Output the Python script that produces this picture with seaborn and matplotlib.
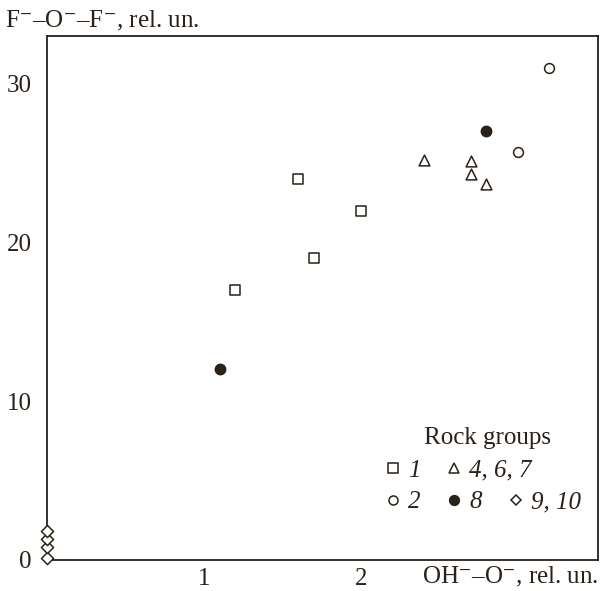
import matplotlib
matplotlib.use("Agg")
import matplotlib.pyplot as plt
import pandas as pd
import seaborn as sns
from matplotlib.lines import Line2D

# --- Data ---
grp1_x = [1.2, 1.6, 1.7, 2.0]
grp1_y = [17.0, 24.0, 19.0, 22.0]
grp2_x = [3.2, 3.0]
grp2_y = [31.0, 25.7]
grp467_x = [2.4, 2.7, 2.7, 2.8]
grp467_y = [25.2, 25.1, 24.3, 23.7]
grp8_x = [1.1, 2.8]
grp8_y = [12.0, 27.0]
grp910_x = [0.0, 0.0, 0.0, 0.0]
grp910_y = [0.1, 0.8, 1.3, 1.8]

group_labels = ["1", "2", "4, 6, 7", "8", "9, 10"]
x_ticks = [1, 2, 3]
x_ticklabels = ["1", "2", ""]
y_ticks = [0, 10, 20, 30]

ink = "#2a2118"
fs = 18

sns.set_theme(style="white")
plt.rcParams["font.family"] = ["Liberation Serif", "DejaVu Serif"]
plt.rcParams["mathtext.fontset"] = "stix"

df = pd.concat([
    pd.DataFrame({"x": grp1_x, "y": grp1_y, "group": group_labels[0]}),
    pd.DataFrame({"x": grp2_x, "y": grp2_y, "group": group_labels[1]}),
    pd.DataFrame({"x": grp467_x, "y": grp467_y, "group": group_labels[2]}),
    pd.DataFrame({"x": grp8_x, "y": grp8_y, "group": group_labels[3]}),
    pd.DataFrame({"x": grp910_x, "y": grp910_y, "group": group_labels[4]}),
], ignore_index=True)

styles = {
    "1": dict(marker="s", fc="white", s=48),
    "2": dict(marker="o", fc="white", s=50),
    "4, 6, 7": dict(marker="^", fc="white", s=60),
    "8": dict(marker="o", fc=ink, s=55),
    "9, 10": dict(marker="D", fc="white", s=38),
}

fig = plt.figure(figsize=(6.02, 5.91), dpi=100)
ax = fig.add_axes([0.078, 0.0525, 0.915, 0.8865])

for g in group_labels:
    st = styles[g]
    sub = df[df["group"] == g]
    sns.scatterplot(data=sub, x="x", y="y", marker=st["marker"], s=st["s"],
                    color=st["fc"], edgecolor=ink, linewidth=1.1, ax=ax,
                    clip_on=False, zorder=3, legend=False)

ax.set_xlim(0, 3.51)
ax.set_ylim(0, 33)
ax.set_xticks(x_ticks)
ax.set_xticklabels(x_ticklabels)
ax.set_yticks(y_ticks)
ax.set_xlabel("")
ax.set_ylabel("")
ax.tick_params(direction="in", length=6, width=1.1, colors=ink, labelsize=fs,
               labelcolor=ink)
ax.tick_params(axis="y", pad=11)
ax.tick_params(axis="x", pad=6)
for sp in ax.spines.values():
    sp.set_color(ink)
    sp.set_linewidth(1.3)

fig.text(0.008, 0.965, r"F$^{-}$–O$^{-}$–F$^{-}$, rel. un.", fontsize=fs,
         color=ink, ha="left", va="center")
fig.text(0.995, 0.012, r"OH$^{-}$–O$^{-}$, rel. un.", fontsize=fs,
         color=ink, ha="right", va="baseline")

# --- legend: two blocks + a title text, as in the reference ---
def handle(g, ms):
    st = styles[g]
    return Line2D([], [], ls="", marker=st["marker"], mfc=st["fc"],
                  mec=ink, mew=1.1, ms=ms)

leg_kw = dict(frameon=False, prop={"style": "italic", "size": fs},
              handletextpad=0.2, labelspacing=0.36, handlelength=0.8,
              borderpad=0, borderaxespad=0, loc="upper left")

leg_a = ax.legend([handle("1", 6.5), handle("2", 6.5), handle("4, 6, 7", 7),
                   handle("8", 7)], ["1", "2", "4, 6, 7", "8"], ncol=2,
                  columnspacing=0.95, bbox_to_anchor=(0.61, 0.192), **leg_kw)
for t in leg_a.get_texts():
    t.set_color(ink)
ax.add_artist(leg_a)

leg_b = ax.legend([Line2D([], [], ls="", marker=None), handle("9, 10", 5.5)],
                  ["", "9, 10"], bbox_to_anchor=(0.834, 0.192), **leg_kw)
for t in leg_b.get_texts():
    t.set_color(ink)

ax.text(0.80, 0.232, "Rock groups", transform=ax.transAxes, fontsize=fs,
        color=ink, ha="center", va="center")

fig.savefig("out.png", dpi=100)
